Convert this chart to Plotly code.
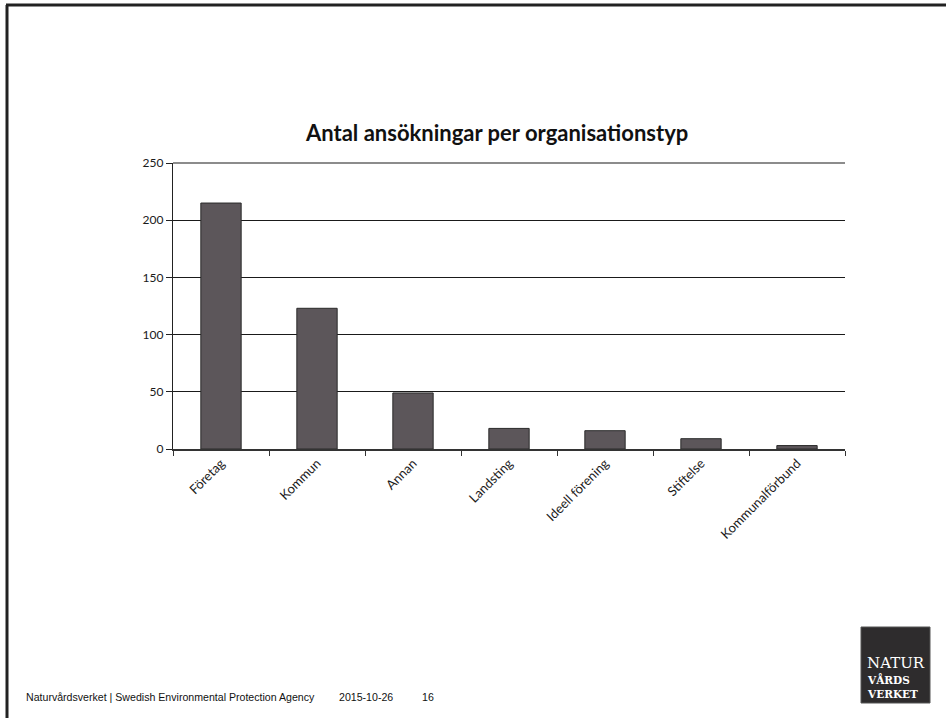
import plotly.graph_objects as go

categories = ["Företag", "Kommun", "Annan", "Landsting", "Ideell förening", "Stiftelse", "Kommunalförbund"]
values = [215, 123, 49, 18, 16, 9, 3]
y_ticks = [0, 50, 100, 150, 200, 250]
title_text = "Antal ansökningar per organisationstyp"
footer_text = "Naturvårdsverket | Swedish Environmental Protection Agency"
footer_date = "2015-10-26"
footer_page = "16"
logo_lines = ["NATUR", "VÅRDS", "VERKET"]

W, H = 946, 718
L, R, T, B = 173, 101, 163, 269
pw, ph = W - L - R, H - T - B

def fx(px):
    return (px - L) / pw

def fy(py):
    return (H - py - B) / ph

fig = go.Figure()
fig.add_trace(go.Bar(
    x=categories, y=values,
    marker=dict(color="#5c565a", line=dict(color="#2a2a2a", width=1)),
    width=0.42,
    hoverinfo="x+y",
))

fig.update_layout(
    width=W, height=H,
    margin=dict(l=L, r=R, t=T, b=B),
    paper_bgcolor="white", plot_bgcolor="white",
    showlegend=False,
    font=dict(family="Lato, sans-serif", color="#1a1a1a"),
)
fig.update_xaxes(
    type="category", tickangle=-45, tickson="boundaries",
    ticks="outside", ticklen=5, tickcolor="#333", tickwidth=1,
    showline=True, linecolor="#333", linewidth=1.5,
    showgrid=False, tickfont=dict(size=13, color="#1a1a1a"),
)
fig.update_yaxes(
    range=[0, 250], tickvals=y_ticks,
    ticks="outside", ticklen=6, tickcolor="#222", tickwidth=1,
    showline=True, linecolor="#222", linewidth=1.2,
    showgrid=True, gridcolor="#1a1a1a", gridwidth=1.2,
    zeroline=False, tickfont=dict(size=12, color="#1a1a1a"),
)

foot_font = dict(size=10.6, family="Liberation Sans Narrow, Liberation Sans, sans-serif", color="#111")
annotations = [
    dict(text="<b>" + title_text + "</b>", x=fx(496), y=fy(132), xref="paper", yref="paper",
         xanchor="center", yanchor="middle",
         showarrow=False, font=dict(size=22, family="Lato, sans-serif", color="#111")),
    dict(text=footer_text, x=fx(24), y=fy(697), xref="paper", yref="paper", xanchor="left", yanchor="middle",
         showarrow=False, font=foot_font),
    dict(text=footer_date, x=fx(337), y=fy(697), xref="paper", yref="paper", xanchor="left", yanchor="middle",
         showarrow=False, font=foot_font),
    dict(text=footer_page, x=fx(420), y=fy(697), xref="paper", yref="paper", xanchor="left", yanchor="middle",
         showarrow=False, font=foot_font),
]
logo_y = [663, 679, 694]
logo_sizes = [15, 10.5, 10.5]
for txt, yy, sz in zip(logo_lines, logo_y, logo_sizes):
    label = txt if txt == "NATUR" else "<b>" + txt + "</b>"
    annotations.append(dict(text=label, x=fx(865), y=fy(yy), xref="paper", yref="paper",
                            xanchor="left", yanchor="middle", showarrow=False,
                            font=dict(size=sz, family="DejaVu Serif, serif", color="white")))
fig.update_layout(annotations=annotations)

shapes = [
    dict(type="line", xref="paper", yref="paper", x0=fx(6), x1=fx(W), y0=fy(5), y1=fy(5),
         line=dict(color="#222", width=3)),
    dict(type="line", xref="paper", yref="paper", x0=fx(7), x1=fx(7), y0=fy(5), y1=fy(H),
         line=dict(color="#222", width=3)),
    dict(type="line", xref="paper", yref="paper", x0=0, x1=1, y0=1, y1=1,
         line=dict(color="#1a1a1a", width=1.2)),
    dict(type="rect", xref="paper", yref="paper", x0=fx(861), x1=fx(930), y0=fy(703), y1=fy(627),
         fillcolor="#2e2c2d", line=dict(color="#555", width=1), layer="below"),
]
fig.update_layout(shapes=shapes)

fig.write_html("out.html", config={"displayModeBar": False},
               post_script="document.body.style.margin='0';document.body.style.overflow='hidden';")
